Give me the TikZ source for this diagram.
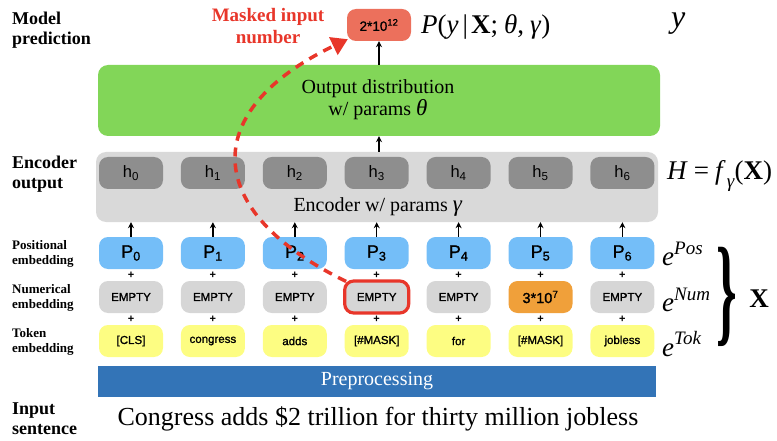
\documentclass[tikz,border=0pt]{standalone}
\usepackage{fontspec}
\setmainfont{Liberation Serif}
\setsansfont{Liberation Sans}
\newfontfamily\boxfont[FakeBold=1.2]{Liberation Sans}
\usetikzlibrary{arrows.meta}
\definecolor{outgreen}{RGB}{130,214,88}
\definecolor{encgray}{RGB}{217,217,217}
\definecolor{hgray}{RGB}{142,142,142}
\definecolor{pblue}{RGB}{116,190,248}
\definecolor{egray}{RGB}{214,214,214}
\definecolor{tyellow}{RGB}{253,253,130}
\definecolor{norange}{RGB}{240,160,58}
\definecolor{predred}{RGB}{236,112,92}
\definecolor{prepblue}{RGB}{51,116,183}
\definecolor{maskred}{RGB}{232,54,42}
\newcommand{\mvar}[1]{\textit{#1}}
\newcommand{\supx}[1]{\raisebox{0.42em}{\fontsize{19}{20}\selectfont\textit{#1}}}
\tikzset{
  box/.style={rounded corners=9pt, minimum width=64pt, minimum height=32pt, inner sep=0pt,
    font=\boxfont\fontsize{11.5}{12}\selectfont},
  hbox/.style={box, fill=hgray, font=\sffamily\fontsize{16.5}{17}\selectfont},
  pbox/.style={box, fill=pblue, font=\boxfont\fontsize{18}{19}\selectfont},
  nbox/.style={box, fill=egray},
  tbox/.style={box, fill=tyellow},
  arr/.style={-{Stealth[length=6pt,width=6pt]}, line width=1.4pt},
  plussign/.style={font=\sffamily\bfseries\fontsize{11}{11}\selectfont, inner sep=0pt},
  biglab/.style={anchor=west, align=left, inner sep=0pt, font=\bfseries\fontsize{18}{20}\selectfont},
  smalllab/.style={anchor=west, align=left, inner sep=0pt, font=\bfseries\fontsize{13}{14.5}\selectfont},
  mathlab/.style={anchor=west, inner sep=0pt, font=\fontsize{27}{29}\selectfont},
  elab/.style={anchor=west, inner sep=0pt, font=\fontsize{27}{29}\selectfont},
}
\begin{document}
\begin{tikzpicture}[x=1pt,y=-1pt]
\useasboundingbox (0,0) rectangle (777,441);
% big boxes
\node[rounded corners=10pt, fill=outgreen, minimum width=562pt, minimum height=71pt, inner sep=0pt]
  (out) at (379,100.5) {};
\node[align=center, inner sep=0pt, font=\fontsize{20}{22}\selectfont] (outtxt) at (378,100)
  {Output distribution\\ w/ params {\fontsize{23}{22}\selectfont\mvar{θ}}};
\node[rounded corners=10pt, fill=encgray, minimum width=562pt, minimum height=70pt, inner sep=0pt]
  (enc) at (377,187) {};
\node[inner sep=0pt, font=\fontsize{20}{22}\selectfont] (enctxt) at (378,207)
  {Encoder w/ params {\fontsize{23}{22}\selectfont\mvar{γ}}};
\node[fill=prepblue, minimum width=558pt, minimum height=31pt, inner sep=0pt,
  text=white, font=\fontsize{20}{22}\selectfont] (prep) at (377,381) {Preprocessing};
\node[inner sep=0pt, font=\fontsize{26}{28}\selectfont] (sent) at (378,419)
  {Congress adds \$2 trillion for thirty million jobless};
% prediction
\node[box, fill=predred, font=\boxfont\fontsize{13.5}{14}\selectfont] (pred) at (379,25)
  {2*10\textsuperscript{12}};
% columns
\foreach \i/\tok in {0/[CLS],1/congress,2/adds,3/[\#MASK],4/for,5/[\#MASK],6/jobless}{
  \pgfmathsetmacro{\cx}{131+81.9*\i}
  \node[hbox] (h\i) at (\cx,173) {h\textsubscript{\i}};
  \node[pbox] (p\i) at (\cx,253) {P\textsubscript{\i}};
  \node[plussign] (pa\i) at (\cx,275) {+};
  \node[plussign] (pb\i) at (\cx,319) {+};
  \node[tbox] (t\i) at (\cx,341) {\tok};
  \draw[arr] (p\i.north) -- (p\i.north |- enc.south);
}
\node[nbox] (n0) at (131,297) {EMPTY};
\node[nbox] (n1) at (212.9,297) {EMPTY};
\node[nbox] (n2) at (294.8,297) {EMPTY};
\node[nbox, draw=maskred, line width=3.2pt] (n3) at (376.7,297) {EMPTY};
\node[nbox] (n4) at (458.6,297) {EMPTY};
\node[box, fill=norange, font=\boxfont\fontsize{14.5}{15}\selectfont] (n5) at (540.5,297) {3*10\textsuperscript{7}};
\node[nbox] (n6) at (622.4,297) {EMPTY};
% vertical arrows
\draw[arr] (enc.north -| pred.south) -- (out.south -| pred.south);
\draw[arr] (out.north -| pred.south) -- (pred.south);
% left labels
\node[biglab] (lmp) at (12,30) {Model\\prediction};
\node[biglab] (leo) at (12,174) {Encoder\\output};
\node[smalllab] (lpe) at (12,254) {Positional\\embedding};
\node[smalllab] (lne) at (12,298) {Numerical\\embedding};
\node[smalllab] (lte) at (12,342) {Token\\embedding};
\node[biglab] (lis) at (12,419) {Input\\sentence};
% masked label
\node[align=center, inner sep=0pt, text=maskred, font=\bfseries\fontsize{19}{22}\selectfont]
  (mlab) at (268,26) {Masked input\\number};
% right labels
\node[mathlab] (pform) at (421,27) {\mvar{P}(\mvar{y}\kern4pt|\kern3pt\textbf{X};\kern6pt\mvar{θ},\kern6pt\mvar{γ})};
\node[inner sep=0pt, anchor=west, font=\fontsize{32}{34}\selectfont] (ylab) at (671,24) {\mvar{y}};
\node[mathlab] (hform) at (667,176) {\mvar{H}\kern6pt=\kern6pt\mvar{f}\kern1pt\raisebox{-0.3em}{\fontsize{19}{20}\selectfont\mvar{γ}}(\textbf{X})};
\node[elab] (epos) at (662,254) {\mvar{e}\supx{Pos}};
\node[elab] (enum) at (662,300) {\mvar{e}\supx{Num}};
\node[elab] (etok) at (662,344) {\mvar{e}\supx{Tok}};
\node[inner sep=0pt] (brace) at (727,297)
  {\scalebox{1.05}[2.4]{\bfseries\fontsize{50}{50}\selectfont\}}};
\node[inner sep=0pt, font=\bfseries\fontsize{27}{28}\selectfont] (xlab) at (759,299) {X};
% masked dashed arrow
\draw[maskred, line width=3.5pt, dash pattern=on 9pt off 7pt,
  -{Triangle[length=16pt,width=19pt]}]
  ([xshift=3pt,yshift=-2pt]n3.north west) .. controls (200,210) and (200,110) ..
  ([xshift=1pt,yshift=2pt]pred.south west);
\end{tikzpicture}
\end{document}
